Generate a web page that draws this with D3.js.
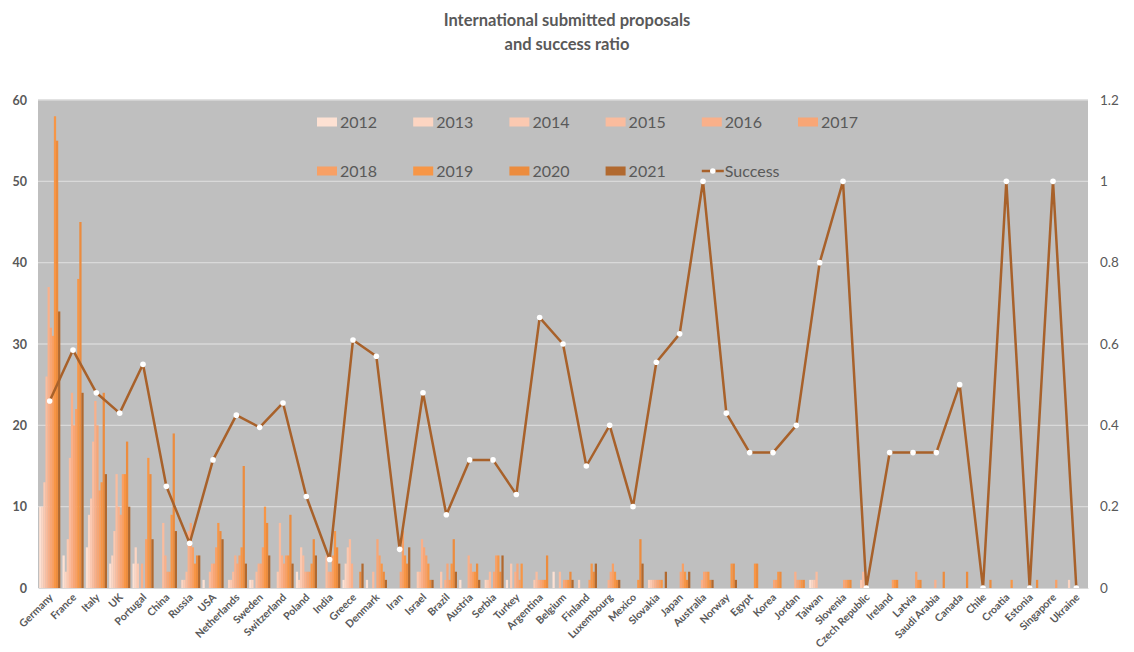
<!DOCTYPE html>
<html>
<head>
<meta charset="utf-8">
<script src="https://cdn.jsdelivr.net/npm/d3@7"></script>
<style>
  body { margin: 0; background: #fff; }
  text { font-family: Lato, "Open Sans", sans-serif; }
</style>
</head>
<body>
<script>
// DATA
var countries = ["Germany","France","Italy","UK","Portugal","China","Russia","USA","Netherlands","Sweden",
  "Switzerland","Poland","India","Greece","Denmark","Iran","Israel","Brazil","Austria","Serbia",
  "Turkey","Argentina","Belgium","Finland","Luxembourg","Mexico","Slovakia","Japan","Australia","Norway",
  "Egypt","Korea","Jordan","Taiwan","Slovenia","Czech Republic","Ireland","Latvia","Saudi Arabia","Canada",
  "Chile","Croatia","Estonia","Singapore","Ukraine"];

var years = ["2012","2013","2014","2015","2016","2017","2018","2019","2020","2021"];

var y2012 = [10,4,5,3,3,0,0,1,0,1,0,2,0,1,1,0,0,0,1,0,1,0,2,0,0,0,0,0,0,0,0,0,0,1,0,0,0,0,0,0,0,0,0,0,0];
var y2013 = [10,2,9,4,5,0,1,0,1,1,0,1,0,3,0,0,0,0,0,1,0,0,0,1,0,0,1,0,0,0,0,0,0,1,0,0,0,0,0,0,0,0,0,0,1];
var y2014 = [13,6,11,7,3,0,1,0,1,0,2,5,0,5,0,0,2,2,0,1,3,1,0,0,0,0,1,0,0,0,0,0,0,1,0,1,0,0,0,0,0,0,0,0,0];
var y2015 = [26,16,18,14,0,8,2,2,2,2,8,4,4,6,2,0,2,0,0,2,0,2,2,0,0,0,1,0,0,0,0,0,0,2,0,2,0,0,0,0,0,0,0,0,0];
var y2016 = [37,24,23,10,3,4,7,3,4,3,4,2,2,3,0,0,6,1,4,0,2,1,0,0,1,0,1,0,1,0,0,0,2,0,0,0,0,0,1,0,0,0,0,0,0];
var y2017 = [32,20,20,9,0,2,8,3,3,3,3,2,2,0,6,2,5,3,3,2,3,1,1,0,2,0,1,2,2,0,0,1,1,0,1,0,0,0,0,0,0,0,0,0,0];
var y2018 = [31,22,12,14,6,2,5,5,4,5,4,2,4,0,4,7,4,1,2,4,1,1,1,1,3,0,1,3,2,0,0,1,1,0,1,0,1,2,0,0,0,0,0,1,0];
var y2019 = [58,38,13,14,16,9,3,8,5,10,4,3,7,0,3,4,3,3,2,4,3,1,1,3,2,1,1,2,2,3,3,2,1,0,1,0,1,1,0,0,0,1,0,0,0];
var y2020 = [55,45,24,18,14,19,4,7,15,8,9,6,5,2,2,3,1,6,3,2,0,4,2,2,1,6,0,1,1,3,3,2,1,0,1,0,1,1,2,2,1,0,1,0,0];
var y2021 = [34,24,14,10,6,7,4,6,3,4,3,4,3,3,1,5,1,2,1,4,0,0,1,3,1,3,2,2,1,1,0,0,0,0,0,0,0,0,0,0,0,0,0,0,0];

var success = [0.46,0.585,0.48,0.43,0.55,0.25,0.11,0.315,0.425,0.395,0.455,0.225,0.07,0.61,0.57,0.095,
  0.48,0.18,0.315,0.315,0.23,0.665,0.6,0.3,0.4,0.2,0.555,0.625,1,0.43,0.333,0.333,0.4,0.8,1,0,
  0.333,0.333,0.333,0.5,0,1,0,1,0];

var leftTicks = [0,10,20,30,40,50,60];
var rightTicks = [0,0.2,0.4,0.6,0.8,1,1.2];

var series = [y2012,y2013,y2014,y2015,y2016,y2017,y2018,y2019,y2020,y2021];
var colors = ["#FDE1D3","#FCD5C2","#FBC9B1","#FABC9E","#F9B08A","#F8A676","#F8A065","#F79646","#EC8C3E","#B1692F"];
var lineColor = "#A8612A";
var textColor = "#595959";

var width = 1134, height = 652;
var plotLeft = 38, plotRight = 1088, plotTop = 100, plotBottom = 588;

var svg = d3.select("body").append("svg")
    .attr("width", width)
    .attr("height", height);

svg.append("rect")
    .attr("width", width).attr("height", height)
    .attr("fill", "#fff");

svg.append("rect")
    .attr("x", plotLeft).attr("y", plotTop)
    .attr("width", plotRight - plotLeft).attr("height", plotBottom - plotTop)
    .attr("fill", "#BFBFBF");

var x = d3.scaleBand().domain(countries).range([plotLeft, plotRight]).paddingInner(0.1).paddingOuter(0.05);
var xYear = d3.scaleBand().domain(years).range([0, x.bandwidth()]).padding(0);
var y = d3.scaleLinear().domain([0, 60]).range([plotBottom, plotTop]);
var y2 = d3.scaleLinear().domain([0, 1.2]).range([plotBottom, plotTop]);

// gridlines
svg.append("g").selectAll("line")
    .data(leftTicks.slice(1))
    .join("line")
    .attr("x1", plotLeft).attr("x2", plotRight)
    .attr("y1", d => y(d)).attr("y2", d => y(d))
    .attr("stroke", "#D9D9D9")
    .attr("stroke-width", 1.3);

// bars
years.forEach(function(yr, i) {
  svg.append("g").attr("fill", colors[i])
    .selectAll("rect")
    .data(series[i])
    .join("rect")
    .attr("x", (d, j) => x(countries[j]) + xYear(yr))
    .attr("width", xYear.bandwidth() + 0.15)
    .attr("y", d => y(d))
    .attr("height", d => y(0) - y(d));
});

// success line
var line = d3.line()
    .x((d, i) => x(countries[i]) + x.bandwidth() / 2)
    .y(d => y2(d));

svg.append("path")
    .datum(success)
    .attr("d", line)
    .attr("fill", "none")
    .attr("stroke", lineColor)
    .attr("stroke-width", 2.5)
    .attr("stroke-linejoin", "round");

svg.append("g").selectAll("circle")
    .data(success)
    .join("circle")
    .attr("cx", (d, i) => x(countries[i]) + x.bandwidth() / 2)
    .attr("cy", d => y2(d))
    .attr("r", 2.8)
    .attr("fill", "#fff");

// left axis
var yAxis = svg.append("g")
    .attr("transform", "translate(" + plotLeft + ",0)")
    .call(d3.axisLeft(y).tickValues(leftTicks).tickSize(0).tickPadding(11));
yAxis.select(".domain").remove();
yAxis.selectAll("text")
    .attr("fill", textColor)
    .style("font-size", "12.5px")
    .style("font-weight", "bold");

// right axis
var y2Axis = svg.append("g")
    .attr("transform", "translate(" + plotRight + ",0)")
    .call(d3.axisRight(y2).tickValues(rightTicks).tickSize(0).tickPadding(12)
      .tickFormat(d => d3.format("~g")(d)));
y2Axis.select(".domain").remove();
y2Axis.selectAll("text")
    .attr("fill", textColor)
    .style("font-size", "13.5px");

// x axis labels
var xAxis = svg.append("g")
    .attr("transform", "translate(0," + plotBottom + ")")
    .call(d3.axisBottom(x).tickSize(0).tickPadding(0));
xAxis.select(".domain").attr("stroke", "#D9D9D9");
xAxis.selectAll("text")
    .attr("fill", textColor)
    .style("font-size", "10.5px")
    .style("font-weight", "bold")
    .attr("text-anchor", "end")
    .attr("dy", 0)
    .attr("transform", "translate(4,10) rotate(-45)");

// legend
var legendItems = years.map((yr, i) => ({ label: yr, color: colors[i], type: "bar" }))
    .concat([{ label: "Success", color: lineColor, type: "line" }]);

var legend = svg.append("g");
var item = legend.selectAll("g")
    .data(legendItems)
    .join("g")
    .attr("transform", (d, i) => "translate(" + (317 + (i % 6) * 96.2) + "," + (i < 6 ? 122 : 171) + ")");

item.filter(d => d.type === "bar").append("rect")
    .attr("x", 0).attr("y", -4.5)
    .attr("width", 20).attr("height", 9)
    .attr("fill", d => d.color);

item.filter(d => d.type === "line").append("line")
    .attr("x1", 0).attr("x2", 22).attr("y1", 0).attr("y2", 0)
    .attr("stroke", lineColor).attr("stroke-width", 2.5);
item.filter(d => d.type === "line").append("circle")
    .attr("cx", 11).attr("cy", 0).attr("r", 2.8).attr("fill", "#fff");

item.append("text")
    .attr("x", 23).attr("y", 0).attr("dy", "0.36em")
    .attr("fill", textColor)
    .style("font-size", "16px")
    .text(d => d.label);

// title
svg.append("text")
    .attr("x", 567).attr("y", 26)
    .attr("text-anchor", "middle")
    .attr("fill", textColor)
    .style("font-size", "16.5px")
    .style("font-weight", "bold")
    .text("International submitted proposals");
svg.append("text")
    .attr("x", 567).attr("y", 50)
    .attr("text-anchor", "middle")
    .attr("fill", textColor)
    .style("font-size", "16.5px")
    .style("font-weight", "bold")
    .text("and success ratio");
</script>
</body>
</html>
